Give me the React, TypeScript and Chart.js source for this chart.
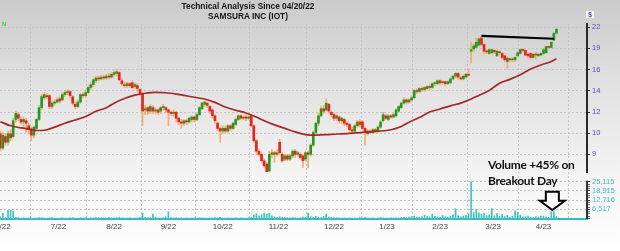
import { useEffect, useRef } from 'react';
import { Chart, registerables } from 'chart.js';

Chart.register(...registerables);

// ---- Data (one bar per trading day, starting mid-June 2022) ----
const monthLabels = ['6/22', '7/22', '8/22', '9/22', '10/22', '11/22', '12/22', '1/23', '2/23', '3/23', '4/23'];
// first bar index of each month (June starts before the visible window), last entry = May 2023
const monthStartBars = [-9, 12, 34, 55, 76, 97, 119, 140, 160, 181, 201, 220];

const open = [
  10.4, 9.4, 10.2, 9.8, 10.4, 10.2, 11.5, 11.9, 11.5, 11.3, 11.4, 11.0,
  10.7, 10.3, 10.8, 11.5, 12.5, 13.4, 13.6, 13.6, 12.6, 12.9, 13.0, 13.3,
  13.2, 13.7, 13.9, 14.0, 13.5, 12.8, 12.6, 13.0, 13.7, 13.6, 13.9, 14.4,
  14.7, 15.1, 15.4, 15.3, 15.5, 15.4, 15.6, 15.5, 15.8, 15.9, 16.0, 15.1,
  14.7, 14.6, 14.8, 14.9, 14.5, 14.6, 14.2, 13.8, 12.3, 12.5, 12.2, 12.5,
  12.2, 12.3, 12.2, 12.5, 12.5, 12.3, 12.1, 12.0, 12.1, 11.6, 11.3, 11.2,
  11.4, 11.3, 11.5, 11.7, 11.5, 11.9, 12.4, 12.8, 12.9, 12.6, 12.3, 11.8,
  11.2, 10.8, 10.6, 10.8, 10.6, 11.0, 10.8, 11.1, 11.5, 11.8, 11.6, 11.7,
  11.6, 11.8, 11.0, 9.9, 9.2, 9.0, 8.6, 8.4, 8.0, 9.0, 9.1, 9.0,
  9.8, 9.0, 8.7, 8.9, 8.7, 8.9, 9.2, 9.0, 9.0, 8.9, 8.7, 9.1,
  9.0, 9.6, 10.5, 11.2, 11.8, 12.4, 12.3, 12.8, 12.1, 11.9, 11.6, 11.7,
  11.4, 11.5, 11.2, 11.1, 10.7, 10.6, 11.0, 11.3, 11.3, 10.8, 10.4, 10.6,
  10.5, 10.7, 10.6, 10.9, 11.4, 11.8, 11.5, 11.8, 11.7, 11.8, 12.2, 12.5,
  12.9, 13.2, 13.0, 13.2, 13.4, 14.1, 14.0, 14.3, 14.2, 14.3, 14.5, 14.4,
  14.8, 14.8, 15.1, 14.9, 15.0, 14.8, 14.9, 15.3, 15.6, 15.9, 15.4, 15.3,
  15.5, 15.8, 18.6, 18.9, 19.1, 19.4, 20.4, 19.5, 18.6, 18.3, 18.4, 18.7,
  18.0, 18.5, 18.3, 18.0, 17.3, 17.6, 17.5, 17.5, 18.0, 18.3, 18.8, 18.7,
  18.2, 18.3, 17.8, 18.2, 18.0, 18.1, 18.3, 18.4, 19.2, 19.1, 20.1, 21.1,
];
const close = [
  9.4, 10.3, 9.8, 10.4, 10.1, 11.4, 12.0, 11.6, 11.3, 11.5, 11.2, 10.7,
  10.3, 10.9, 11.5, 12.5, 13.5, 13.7, 13.5, 12.6, 12.9, 13.0, 13.2, 13.1,
  13.7, 13.9, 14.0, 13.6, 12.9, 12.6, 13.0, 13.7, 13.6, 13.9, 14.4, 14.7,
  15.2, 15.4, 15.3, 15.5, 15.4, 15.6, 15.5, 15.8, 16.0, 16.1, 15.2, 14.8,
  14.6, 14.8, 14.6, 14.4, 14.7, 14.3, 13.8, 12.2, 12.4, 12.2, 12.6, 12.2,
  12.3, 12.1, 12.5, 12.6, 12.3, 12.1, 12.0, 12.1, 11.6, 11.3, 11.2, 11.4,
  11.3, 11.6, 11.7, 11.5, 11.9, 12.5, 12.9, 13.0, 12.7, 12.2, 11.8, 11.4,
  10.8, 10.6, 10.8, 10.6, 11.0, 10.8, 11.2, 11.5, 11.8, 11.6, 11.7, 11.6,
  11.7, 11.0, 9.9, 9.2, 9.0, 8.6, 8.3, 7.9, 9.0, 9.1, 9.0, 9.1,
  9.1, 8.6, 8.9, 8.7, 8.9, 9.2, 9.0, 9.1, 8.8, 8.6, 9.1, 9.0,
  9.6, 10.5, 11.2, 11.8, 12.4, 12.2, 12.9, 12.2, 11.9, 11.6, 11.8, 11.4,
  11.6, 11.2, 11.1, 10.7, 10.6, 11.0, 11.3, 11.1, 10.8, 10.5, 10.6, 10.5,
  10.7, 10.6, 10.9, 11.3, 11.9, 11.6, 11.8, 11.7, 11.9, 12.3, 12.6, 12.9,
  13.2, 13.0, 13.2, 13.4, 14.1, 14.0, 14.3, 14.2, 14.4, 14.5, 14.4, 14.8,
  14.9, 15.1, 14.9, 15.0, 14.8, 15.0, 15.3, 15.6, 15.9, 15.5, 15.3, 15.6,
  15.8, 15.7, 18.8, 19.3, 19.8, 20.3, 19.5, 18.6, 18.5, 18.8, 18.8, 18.5,
  18.6, 18.4, 17.8, 17.5, 17.7, 17.5, 17.6, 17.8, 18.4, 18.8, 18.7, 18.1,
  18.0, 17.8, 18.2, 18.1, 18.2, 18.3, 18.8, 19.2, 19.1, 19.8, 21.1, 21.7,
];
const high = [
  10.6, 10.5, 10.4, 10.6, 10.7, 11.6, 12.2, 12.1, 11.7, 11.7, 11.6, 11.2,
  10.9, 11.0, 11.6, 12.7, 13.7, 13.9, 13.8, 13.7, 13.1, 13.2, 13.4, 13.5,
  13.9, 14.1, 14.2, 14.1, 13.6, 13.0, 13.2, 13.8, 13.9, 14.1, 14.6, 14.9,
  15.3, 15.6, 15.6, 15.7, 15.7, 15.8, 15.9, 16.0, 16.2, 16.4, 16.1, 15.3,
  14.9, 15.0, 14.9, 15.1, 14.9, 14.8, 14.3, 13.9, 12.7, 12.6, 12.8, 12.7,
  12.5, 12.4, 12.6, 12.8, 12.6, 12.4, 12.2, 12.3, 12.2, 11.7, 11.5, 11.5,
  11.5, 11.7, 11.8, 11.8, 12.0, 12.6, 13.0, 13.1, 13.0, 12.7, 12.4, 11.9,
  11.3, 10.9, 11.0, 11.0, 11.1, 11.1, 11.3, 11.6, 11.9, 11.9, 11.8, 11.9,
  11.8, 11.9, 11.1, 10.0, 9.3, 9.1, 8.7, 8.5, 9.2, 9.3, 9.2, 9.3,
  10.0, 9.1, 9.0, 9.0, 9.0, 9.3, 9.3, 9.2, 9.1, 9.0, 9.2, 9.2,
  9.7, 10.6, 11.3, 12.0, 12.6, 12.7, 13.3, 12.9, 12.2, 12.0, 11.9, 11.8,
  11.7, 11.6, 11.3, 11.2, 10.9, 11.1, 11.4, 11.5, 11.4, 10.9, 10.7, 10.7,
  10.8, 10.8, 11.0, 11.4, 12.1, 11.9, 11.9, 11.9, 12.0, 12.4, 12.7, 13.0,
  13.4, 13.3, 13.3, 13.6, 14.2, 14.3, 14.4, 14.5, 14.5, 14.6, 14.7, 14.9,
  15.0, 15.2, 15.2, 15.1, 15.1, 15.1, 15.4, 15.7, 16.0, 16.0, 15.6, 15.7,
  15.9, 16.4, 19.8, 19.6, 20.4, 20.4, 20.7, 19.6, 18.8, 18.9, 18.9, 18.8,
  18.7, 18.6, 18.4, 18.1, 17.9, 17.7, 17.8, 17.9, 18.5, 18.9, 19.0, 18.8,
  18.3, 18.4, 18.3, 18.4, 18.3, 18.4, 19.0, 19.3, 19.3, 19.9, 21.2, 21.9,
];
const low = [
  9.2, 9.3, 9.6, 9.6, 9.9, 10.1, 11.3, 11.4, 11.1, 10.9, 10.5, 10.4,
  9.9, 10.1, 10.6, 11.4, 12.3, 13.2, 13.3, 12.4, 12.4, 12.7, 12.9, 12.9,
  13.1, 13.5, 13.7, 13.4, 12.7, 12.4, 12.5, 12.9, 13.4, 13.5, 13.8, 14.2,
  14.5, 14.9, 15.1, 15.2, 15.2, 15.3, 15.3, 15.4, 15.6, 15.7, 15.1, 14.6,
  14.4, 14.4, 14.4, 14.3, 14.3, 14.0, 13.6, 11.0, 11.9, 11.9, 12.0, 12.0,
  12.0, 11.9, 12.0, 12.3, 12.1, 11.0, 11.8, 11.8, 11.3, 11.1, 10.8, 11.0,
  11.1, 11.2, 11.3, 11.3, 11.4, 11.8, 12.3, 12.6, 12.5, 12.0, 11.6, 11.2,
  10.6, 9.8, 10.4, 10.5, 10.5, 10.6, 10.7, 11.0, 11.4, 11.5, 11.5, 11.4,
  11.5, 10.9, 9.8, 9.0, 8.9, 8.5, 8.2, 7.6, 7.9, 8.8, 8.5, 8.9,
  9.0, 8.5, 8.6, 8.6, 8.6, 8.8, 8.8, 8.9, 8.7, 8.2, 8.6, 8.2,
  8.9, 9.5, 10.4, 11.0, 11.7, 12.0, 12.2, 12.0, 11.7, 11.4, 11.4, 11.2,
  11.2, 11.0, 10.9, 10.6, 10.4, 10.5, 10.9, 10.9, 10.7, 9.6, 10.3, 10.4,
  10.4, 10.5, 10.5, 10.8, 11.3, 11.5, 11.4, 11.6, 11.6, 11.7, 12.1, 12.4,
  12.8, 12.8, 12.9, 13.1, 13.3, 13.8, 13.9, 14.0, 14.0, 14.2, 14.2, 14.3,
  14.6, 14.7, 14.7, 14.7, 14.6, 14.7, 14.8, 15.2, 15.4, 15.3, 15.2, 15.2,
  15.4, 15.6, 17.1, 18.5, 19.0, 19.3, 19.3, 18.2, 18.3, 18.2, 18.2, 18.3,
  17.9, 18.2, 17.6, 17.3, 16.5, 17.2, 17.3, 17.3, 17.9, 18.2, 18.5, 18.0,
  17.7, 17.6, 17.7, 17.6, 17.9, 18.0, 18.2, 18.3, 18.9, 19.0, 20.0, 21.0,
];
const volume = [
  1400, 3800, 900, 6000, 5800, 5200, 1200, 900, 700, 800, 600, 800,
  700, 600, 800, 1000, 900, 700, 600, 700, 900, 500, 600, 600,
  800, 700, 600, 800, 900, 600, 700, 900, 600, 800, 600, 800,
  700, 900, 1000, 800, 600, 700, 1100, 900, 800, 900, 1200, 800,
  700, 600, 800, 600, 700, 800, 1000, 4000, 1200, 900, 1000, 3300,
  1100, 800, 700, 900, 1300, 4800, 900, 800, 900, 700, 800, 600,
  800, 600, 700, 800, 600, 900, 800, 700, 600, 800, 800, 900,
  700, 1100, 600, 600, 800, 700, 600, 800, 600, 800, 700, 600,
  900, 1200, 2600, 3600, 2000, 2800, 4000, 3200, 4000, 2200, 1400, 1100,
  1500, 1100, 900, 1000, 800, 1000, 800, 700, 900, 1300, 1100, 4000,
  1500, 1100, 1800, 1300, 1000, 1800, 3300, 1300, 1100, 900, 800, 800,
  700, 800, 600, 800, 600, 700, 600, 900, 800, 1100, 700, 600,
  700, 500, 800, 1000, 800, 700, 600, 800, 700, 800, 700, 1000,
  1100, 900, 1300, 1600, 2000, 1300, 1000, 1400, 2600, 1700, 1300, 3400,
  1800, 1400, 1100, 2400, 1600, 1300, 1800, 2800, 7000, 2200, 1400, 2000,
  2400, 3600, 25000, 4400, 6500, 4200, 3400, 4000, 2200, 2800, 7000, 2200,
  3600, 1800, 3200, 1600, 2600, 1300, 1800, 5500, 4500, 2600, 1400, 1600,
  2000, 1300, 1000, 1500, 1100, 2000, 2000, 1300, 1100, 4800, 5000, 1800,
];

// moving average, sampled at these bars
const maBars = [0, 4, 8, 12, 14, 17, 21, 25, 29, 33, 37, 41, 44, 48, 52, 56, 60, 64, 68, 71, 75, 79, 83, 87, 91, 95, 99, 102, 106, 110, 114, 118, 122, 128, 135, 143, 151, 155, 158, 162, 166, 170, 174, 178, 182, 185, 189, 193, 197, 201, 205, 209, 213, 215];
const maValues = [11.32, 11.0, 10.84, 10.72, 10.64, 10.66, 10.9, 11.2, 11.46, 11.75, 12.18, 12.48, 12.9, 13.33, 13.65, 13.83, 13.92, 13.88, 13.75, 13.62, 13.45, 13.28, 12.97, 12.56, 12.27, 12.04, 11.7, 11.4, 11.07, 10.8, 10.54, 10.34, 10.3, 10.36, 10.43, 10.54, 10.7, 10.95, 11.28, 11.66, 12.12, 12.38, 12.66, 12.9, 13.28, 13.62, 14.1, 14.85, 15.25, 15.75, 16.4, 16.88, 17.3, 17.62];

// resistance line drawn on the chart
const resistanceBars = [186, 214];
const resistancePrices = [20.7, 20.3];

// axis ticks
const priceTicks = [9, 10.45, 12.12, 14.07, 16.34, 18.96, 22];
const priceTickLabels = ['9', '10', '12', '14', '16', '19', '22'];
const volumeTicks = [6517, 12716, 18915, 25115];

// annotation anchor (breakout-day volume)
const arrowBar = 213.4;
const arrowTipVolume = 6000;

const GREEN = '#1f9b1f';
const RED = '#f01e1e';
const WICK = '#f0ad6c';
const GRID = '#c2c2c2';

export default function App() {
  const ref = useRef<HTMLCanvasElement>(null);

  useEffect(() => {
    const bars = close.map((_, i) => i);
    const bodyData = bars.map((i) => ({ x: i, y: [open[i], close[i]] }));
    const wickData = bars.map((i) => ({ x: i, y: [low[i], high[i]] }));
    const bodyColors = bars.map((i) => (close[i] >= open[i] ? GREEN : RED));
    const volData = bars.map((i) => ({ x: i, y: volume[i] }));
    const maData = maBars.map((b, k) => ({ x: b, y: maValues[k] }));
    const resData = resistanceBars.map((b, k) => ({ x: b, y: resistancePrices[k] }));

    const boundaries = monthStartBars.slice(1).map((b) => b - 0.5);
    const boundarySet = new Set(boundaries);
    const labelMap = new Map<number, string>();
    monthLabels.forEach((l, i) => {
      labelMap.set((monthStartBars[i] + monthStartBars[i + 1] - 1) / 2, l);
    });
    const xTicks = [...boundaries, ...Array.from(labelMap.keys())].sort((a, b) => a - b);

    const volMajor = new Set(volumeTicks);
    const step = (volumeTicks[3] - volumeTicks[0]) / 12;
    const volAll: number[] = [];
    for (let v = volumeTicks[0] - 4 * step; v <= volumeTicks[3] + 1; v += step) {
      if (v > 0) volAll.push(v);
    }
    const volTickValues = volAll.map((v) => {
      const m = volumeTicks.find((t) => Math.abs(t - v) < 2);
      return m !== undefined ? m : v;
    });

    const arrowPlugin = {
      id: 'annotations',
      afterDraw(chart: any) {
        const { ctx, chartArea, scales } = chart;
        const xs = scales.x;
        const yv = scales.yv;
        ctx.save();
        // volume axis line
        ctx.strokeStyle = '#333';
        ctx.lineWidth = 2;
        ctx.beginPath();
        ctx.moveTo(chartArea.right, yv.getPixelForValue(volumeTicks[3]) - 1);
        ctx.lineTo(chartArea.right, chartArea.bottom);
        ctx.stroke();
        // down arrow
        const cx = xs.getPixelForValue(arrowBar);
        const tip = yv.getPixelForValue(arrowTipVolume);
        ctx.beginPath();
        ctx.moveTo(cx - 6.5, tip - 18.3);
        ctx.lineTo(cx + 6.5, tip - 18.3);
        ctx.lineTo(cx + 6.5, tip - 9.3);
        ctx.lineTo(cx + 12.5, tip - 9.3);
        ctx.lineTo(cx, tip);
        ctx.lineTo(cx - 12.5, tip - 9.3);
        ctx.lineTo(cx - 6.5, tip - 9.3);
        ctx.closePath();
        ctx.fillStyle = '#ffffff';
        ctx.fill();
        ctx.strokeStyle = '#000';
        ctx.lineWidth = 2;
        ctx.lineJoin = 'miter';
        ctx.stroke();
        ctx.restore();
      },
    };

    const chart = new Chart(ref.current as HTMLCanvasElement, {
      type: 'bar',
      data: {
        datasets: [
          {
            type: 'line',
            data: resData,
            yAxisID: 'y',
            borderColor: '#000',
            borderWidth: 2.2,
            pointRadius: 0,
            order: 0,
          } as any,
          {
            type: 'line',
            data: maData,
            yAxisID: 'y',
            borderColor: '#a52828',
            borderWidth: 1.7,
            pointRadius: 0,
            cubicInterpolationMode: 'monotone',
            order: 1,
          } as any,
          {
            type: 'bar',
            data: bodyData,
            yAxisID: 'y',
            backgroundColor: bodyColors,
            barThickness: 2,
            grouped: false,
            minBarLength: 1,
            order: 2,
          } as any,
          {
            type: 'bar',
            data: wickData,
            yAxisID: 'y',
            backgroundColor: WICK,
            barThickness: 1,
            grouped: false,
            order: 3,
          } as any,
          {
            type: 'bar',
            data: volData,
            yAxisID: 'yv',
            backgroundColor: '#3cc4c4',
            barThickness: 1,
            grouped: false,
            order: 4,
          } as any,
        ],
      },
      options: {
        animation: false,
        responsive: false,
        devicePixelRatio: 1,
        layout: { padding: { top: 24, left: 0, right: 0, bottom: 0 } },
        plugins: {
          legend: { display: false },
          tooltip: { enabled: false },
          title: { display: false },
        },
        scales: {
          x: {
            type: 'linear',
            min: -0.1,
            max: 226.8,
            offset: false,
            afterBuildTicks: (s: any) => {
              s.ticks = xTicks.map((v) => ({ value: v }));
            },
            afterFit: (s: any) => {
              s.height = 32;
              s.paddingLeft = 0;
              s.paddingRight = 0;
            },
            grid: {
              offset: false,
              drawTicks: false,
              color: (c: any) => (c.tick && boundarySet.has(c.tick.value) ? GRID : 'rgba(0,0,0,0)'),
              lineWidth: 1,
            },
            border: { display: true, color: '#36bcbc', width: 2, dash: [2, 2] },
            ticks: {
              autoSkip: false,
              maxRotation: 0,
              padding: 3,
              color: '#444',
              font: { size: 8, family: "'Liberation Sans', Arial, sans-serif" },
              callback: (v: any) => labelMap.get(Number(v)) ?? '',
            },
          },
          y: {
            type: 'logarithmic',
            position: 'right',
            stack: 'right',
            stackWeight: 148,
            min: 7.946,
            max: 22.517,
            afterBuildTicks: (s: any) => {
              s.ticks = priceTicks.map((v) => ({ value: v }));
            },
            afterFit: (s: any) => {
              s.width = 33;
              s.paddingTop = 0;
              s.paddingBottom = 0;
            },
            grid: { color: GRID, tickColor: '#333', tickLength: 3, lineWidth: 1 },
            border: { display: true, color: '#2a2a2a', width: 2, dash: [2, 2] },
            ticks: {
              autoSkip: false,
              padding: 2,
              color: '#5050c0',
              font: { size: 7.5, family: "'Liberation Sans', Arial, sans-serif" },
              callback: (_v: any, i: number) => priceTickLabels[i],
            },
          } as any,
          yv: {
            type: 'linear',
            position: 'right',
            stack: 'right',
            stackWeight: 47,
            min: 0,
            max: 31646,
            afterBuildTicks: (s: any) => {
              s.ticks = volTickValues.map((v) => ({ value: v }));
            },
            afterFit: (s: any) => {
              s.width = 33;
              s.paddingTop = 0;
              s.paddingBottom = 0;
            },
            grid: {
              color: (c: any) => (c.tick && volMajor.has(c.tick.value) ? GRID : 'rgba(0,0,0,0)'),
              tickColor: (c: any) => (c.tick && volMajor.has(c.tick.value) ? '#333' : '#666'),
              tickLength: 3,
              lineWidth: 1,
            },
            border: { display: false, dash: [2, 2] },
            ticks: {
              autoSkip: false,
              padding: 2,
              color: '#3cbcbc',
              font: { size: 7.5, family: "'Liberation Sans', Arial, sans-serif" },
              callback: (v: any) => (volMajor.has(Number(v)) ? Number(v).toLocaleString('en-US') : ''),
            },
          } as any,
        },
      } as any,
      plugins: [arrowPlugin],
    });
    return () => chart.destroy();
  }, []);

  return (
    <div
      style={{
        position: 'fixed',
        left: 0,
        top: 0,
        width: 620,
        height: 251,
        overflow: 'hidden',
        background: 'linear-gradient(to bottom, #cbcbcb 0%, #e2e2e2 35%, #f4f4f4 70%, #ffffff 100%)',
      }}
    >
      <canvas
        ref={ref}
        width={620}
        height={251}
        style={{ position: 'absolute', left: 0, top: 0, width: 620, height: 251 }}
      />
      <div
        style={{
          position: 'absolute',
          left: 148,
          top: 0.5,
          width: 200,
          textAlign: 'center',
          font: "bold 8.3px/10px 'Liberation Sans', Arial, sans-serif",
          color: '#111',
          whiteSpace: 'nowrap',
        }}
      >
        <div>Technical Analysis Since 04/20/22</div>
        <div>SAMSURA INC (IOT)</div>
      </div>
      <div
        style={{
          position: 'absolute',
          left: 2,
          top: 21,
          font: "bold 6px/6px 'Liberation Sans', Arial, sans-serif",
          color: '#2ee02e',
        }}
      >
        N
      </div>
      <div
        style={{
          position: 'absolute',
          left: 586,
          top: 11,
          width: 8,
          height: 7,
          background: '#ffffff',
          textAlign: 'center',
          font: "bold 6.5px/7px 'Liberation Sans', Arial, sans-serif",
          color: '#3a3ab8',
        }}
      >
        $
      </div>
      <div
        style={{
          position: 'absolute',
          left: 488,
          top: 157,
          font: "bold 12px/16px Lato, 'Open Sans', sans-serif",
          letterSpacing: '-0.3px',
          color: '#111',
          whiteSpace: 'nowrap',
        }}
      >
        <div>Volume +45% on</div>
        <div>Breakout Day</div>
      </div>
    </div>
  );
}
